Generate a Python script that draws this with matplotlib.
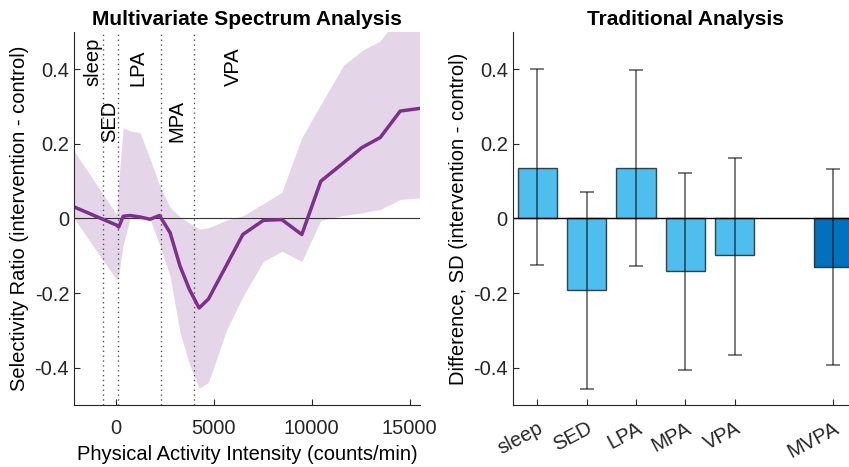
import numpy as np
import matplotlib.pyplot as plt

plt.rcParams['font.family'] = ['Liberation Sans', 'DejaVu Sans']
plt.rcParams['font.size'] = 14.5

# multivariate spectrum: selectivity ratio vs intensity, with band
intensity = [-2130, 50, 150, 380, 730, 1240, 1750, 2230, 2770, 3280, 3755, 4250,
             4725, 5660, 6480, 7530, 8470, 9490, 10460, 11610, 12550, 13490, 14510, 15490]
sr_mean = [0.031, -0.018, -0.023, 0.006, 0.008, 0.004, -0.002, 0.008, -0.038, -0.128, -0.19, -0.24,
           -0.216, -0.124, -0.043, -0.005, -0.003, -0.043, 0.1, 0.149, 0.19, 0.217, 0.288, 0.295]
sr_upper = [0.181, 0.01, 0.1, 0.243, 0.235, 0.23, 0.16, 0.09, 0.03, 0.004, -0.012, -0.028,
            -0.025, -0.004, 0.007, 0.04, 0.07, 0.217, 0.306, 0.41, 0.45, 0.476, 0.55, 0.6]
sr_lower = [0.0, -0.165, -0.15, -0.07, 0.0, -0.002, -0.002, -0.07, -0.155, -0.306, -0.39, -0.455,
            -0.44, -0.298, -0.21, -0.115, -0.088, -0.115, -0.005, 0.008, 0.015, 0.024, 0.051, 0.055]

cutpoints = [-650, 100, 2300, 4000]
zone_names = ['sleep', 'SED', 'LPA', 'MPA', 'VPA']
zone_x = [-1160, -290, 1140, 3125, 5980]
zone_y = [0.354, 0.204, 0.354, 0.204, 0.354]

# traditional analysis
categories = ['sleep', 'SED', 'LPA', 'MPA', 'VPA', 'MVPA']
cat_pos = [1, 2, 3, 4, 5, 7]
diff = [0.136, -0.192, 0.135, -0.141, -0.099, -0.131]
ci_hi = [0.401, 0.071, 0.398, 0.122, 0.162, 0.132]
ci_lo = [-0.125, -0.456, -0.127, -0.405, -0.365, -0.394]

purple = '#7E2F8E'
fig = plt.figure(figsize=(8.49, 4.67), dpi=100)

ax1 = fig.add_axes([0.0872, 0.1328, 0.4075, 0.7987])
ax1.fill_between(intensity, sr_lower, sr_upper, color=purple, alpha=0.2, linewidth=0)
ax1.axhline(0, color='#333333', linewidth=0.8)
for c in cutpoints:
    ax1.axvline(c, color='#555555', linestyle=(0, (1, 2.5)), linewidth=1)
ax1.plot(intensity, sr_mean, color=purple, linewidth=2.5)
for name, x, y in zip(zone_names, zone_x, zone_y):
    ax1.text(x, y, name, rotation=90, ha='center', va='bottom')
ax1.set_xlim(-2130, 15520)
ax1.set_ylim(-0.5, 0.5)
ax1.set_xticks([0, 5000, 10000, 15000])
ax1.set_yticks([-0.4, -0.2, 0, 0.2, 0.4])
ax1.set_yticklabels(['-0.4', '-0.2', '0', '0.2', '0.4'])
ax1.set_xlabel('Physical Activity Intensity (counts/min)', labelpad=5)
ax1.set_ylabel('Selectivity Ratio (intervention - control)')
ax1.set_title('Multivariate Spectrum Analysis', fontweight='bold', fontsize=15, pad=5)

ax2 = fig.add_axes([0.6039, 0.1328, 0.4067, 0.7987])
colors = ['#4DBEEE'] * 5 + ['#0072BD']
err = [np.array(diff) - np.array(ci_lo), np.array(ci_hi) - np.array(diff)]
ax2.bar(cat_pos, diff, width=0.8, color=colors, edgecolor=(0, 0, 0, 0.7), linewidth=1)
ax2.errorbar(cat_pos, diff, yerr=err, fmt='none', ecolor=(0, 0, 0, 0.6),
             elinewidth=1.2, capsize=5, capthick=1.2)
ax2.axhline(0, color='black', linewidth=1)
ax2.set_xlim(0.5, 7.5)
ax2.set_ylim(-0.5, 0.5)
ax2.set_xticks(cat_pos)
ax2.set_xticklabels(categories, rotation=28, ha='right', rotation_mode='anchor')
ax2.set_yticks([-0.4, -0.2, 0, 0.2, 0.4])
ax2.set_yticklabels(['-0.4', '-0.2', '0', '0.2', '0.4'])
ax2.set_ylabel('Difference, SD (intervention - control)')
ax2.set_title('Traditional Analysis', fontweight='bold', fontsize=15, pad=5)

for ax in (ax1, ax2):
    for s in ('top', 'right'):
        ax.spines[s].set_visible(False)
    for s in ('left', 'bottom'):
        ax.spines[s].set_color('#262626')
    ax.tick_params(direction='in', length=4, colors='#262626', labelsize=14.5)
    ax.tick_params(axis='x', pad=10)

fig.savefig('out.png', dpi=100)
